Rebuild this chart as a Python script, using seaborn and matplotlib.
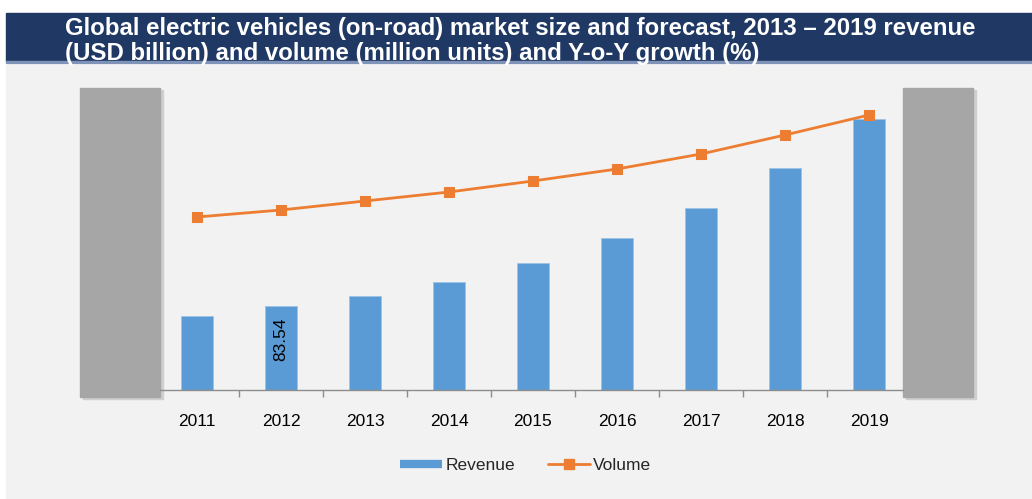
import numpy as np
import pandas as pd
import seaborn as sns
import matplotlib.pyplot as plt
from matplotlib.patches import Rectangle
from matplotlib.lines import Line2D

years = ['2011', '2012', '2013', '2014', '2015', '2016', '2017', '2018', '2019']
revenue = [74, 83.54, 94, 108, 127, 152, 182, 222, 271]
volume = [173, 180, 189, 198, 209, 221, 236, 255, 275]
title = ('Global electric vehicles (on-road) market size and forecast, 2013 \u2013 2019 revenue\n'
         '(USD billion) and volume (million units) and Y-o-Y growth (%)')

sns.set_style('white')
plt.rcParams['font.family'] = ['Liberation Sans', 'DejaVu Sans']

W, H = 1032, 499
fig = plt.figure(figsize=(W / 100, H / 100), dpi=100, facecolor='white')

# header bar and grey panel (pixel coords converted to figure fraction)
def frect(x0, y0, x1, y1, color, z=-1):
    fig.patches.append(Rectangle((x0 / W, 1 - y1 / H), (x1 - x0) / W, (y1 - y0) / H,
                                 transform=fig.transFigure, color=color, zorder=z))

frect(6, 13, W, 61, '#203864')
frect(6, 61, W, 63, '#7f93b8')
frect(6, 65, W, H, '#f2f2f2')
fig.text(65 / W, 1 - 41 / H, title, color='white', fontsize=17.3, fontweight='bold',
         va='center', ha='left', linespacing=1.08)

# plot area
left_px, right_px, top_px, base_px = 80, 973, 80, 390
ax = fig.add_axes([left_px / W, 1 - base_px / H, (right_px - left_px) / W, (base_px - top_px) / H])
ax.set_facecolor('none')
ax.set_zorder(1)

df = pd.DataFrame({'year': years, 'revenue': revenue, 'volume': volume})
blue = '#5b9bd5'
orange = '#ed7d31'
sns.barplot(data=df, x='year', y='revenue', color=blue, width=0.39, saturation=1, ax=ax,
            edgecolor='#9cc3e6', linewidth=0.6, zorder=2)

step = 84.0
x0 = (left_px - 197) / step
x1 = (right_px - 197) / step
ax.set_xlim(x0, x1)
ax.set_ylim(0, base_px - top_px)

# decorative grey blocks on both sides
lb = ((160 - 197) / step)
rb = ((903 - 197) / step)
for a, b in [(x0, lb), (rb, x1)]:
    ax.add_patch(Rectangle((a + 0.03, -9), b - a, 309, color='#cfcfcf', zorder=1, clip_on=False))
    ax.add_patch(Rectangle((a, -7), b - a, 309, color='#a6a6a6', zorder=1.5, clip_on=False))

# axis line between the blocks
for s in ax.spines.values():
    s.set_visible(False)
ax.plot([lb, rb], [0, 0], color='#8c8c8c', lw=1, zorder=3, clip_on=False)
ax.set_xticks(range(len(years)))
ax.set_xticklabels(years)
ax.set_xticks(np.arange(0.5, len(years) - 1, 1), minor=True)
ax.tick_params(axis='x', which='major', length=0, pad=17, labelsize=12.5, labelcolor='black')
ax.tick_params(axis='x', which='minor', length=5, width=1, color='#8c8c8c', direction='out', bottom=True)
ax.set_yticks([])
ax.set_xlabel('')
ax.set_ylabel('')

# data label on 2012 bar
ax.text(1, revenue[1] - 11, f'{revenue[1]:.2f}', rotation=90, ha='center', va='top',
        fontsize=12.5, color='black', zorder=4)

ax2 = ax.twinx()
ax2.set_position(ax.get_position())
ax2.set_zorder(2)
ax2.set_facecolor('none')
sns.lineplot(x=np.arange(len(years)), y=volume, ax=ax2, color=orange, lw=2,
             marker='s', markersize=7.5, markeredgecolor=orange, zorder=5)
ax2.set_ylim(0, base_px - top_px)
ax2.set_xlim(x0, x1)
ax2.set_yticks([])
for s in ax2.spines.values():
    s.set_visible(False)

handles = [Line2D([], [], color=blue, lw=6, solid_capstyle='butt'),
           Line2D([], [], color=orange, lw=2, marker='s', markersize=7.5)]
fig.legend(handles, ['Revenue', 'Volume'], loc='center', ncol=2, frameon=False,
           bbox_to_anchor=(526 / W, 1 - 465 / H), fontsize=12.5, handlelength=2.4,
           handletextpad=0.2, columnspacing=1.9)

fig.savefig('out.png', dpi=100, facecolor='white')
